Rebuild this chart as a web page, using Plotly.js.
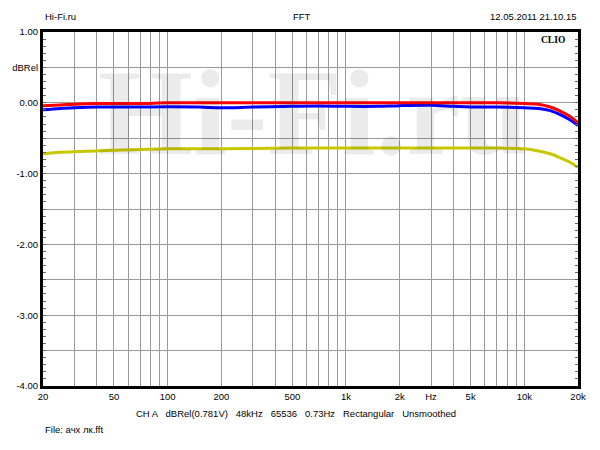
<!DOCTYPE html>
<html><head><meta charset="utf-8">
<script src="https://cdn.plot.ly/plotly-3.0.1.min.js"></script>
<style>body{margin:0;background:#fff}#c{width:600px;height:450px}</style>
</head><body><div id="c"></div>
<script>
const freq = [20,25,30,40,50,70,100,150,200,300,500,700,1000,1500,2000,3000,4000,5000,7000,10000,12000,14000,16000,18000,20000];
const red = [-0.04,-0.03,-0.02,-0.01,-0.01,-0.01,0,0,0,0,0,0,0,0,0,0,0,0,0,-0.01,-0.02,-0.06,-0.12,-0.19,-0.28];
const blue = [-0.10,-0.08,-0.07,-0.06,-0.06,-0.06,-0.055,-0.06,-0.07,-0.06,-0.05,-0.045,-0.05,-0.05,-0.04,-0.035,-0.05,-0.06,-0.06,-0.07,-0.08,-0.11,-0.17,-0.24,-0.32];
const yellow = [-0.72,-0.70,-0.69,-0.68,-0.67,-0.66,-0.65,-0.65,-0.65,-0.645,-0.64,-0.64,-0.64,-0.64,-0.64,-0.64,-0.64,-0.64,-0.64,-0.65,-0.68,-0.72,-0.78,-0.84,-0.91];

const xGrid = [20,30,40,50,60,70,80,90,100,200,300,400,500,600,700,800,900,1000,2000,3000,4000,5000,6000,7000,8000,9000,10000,20000];
const xLabels = {20:'20',50:'50',100:'100',200:'200',500:'500',1000:'1k',2000:'2k',3000:'Hz',5000:'5k',10000:'10k',20000:'20k'};
const yTicks = [-4,-3.5,-3,-2.5,-2,-1.5,-1,-0.5,0,0.5,1];
const yLabels = ['-4.00','','-3.00','','-2.00','','-1.00','','0.00','dBRel','1.00'];

const fam = 'Liberation Sans, Arial, sans-serif';
const font = {family:fam, size:9.5, color:'#000'};
const traces = [
  {x:freq, y:yellow, mode:'lines', line:{color:'#c8c800', width:3, shape:'spline'}, hoverinfo:'skip'},
  {x:freq, y:blue, mode:'lines', line:{color:'#0000ff', width:3, shape:'spline'}, hoverinfo:'skip'},
  {x:freq, y:red, mode:'lines', line:{color:'#ff0000', width:3, shape:'spline'}, hoverinfo:'skip'}
];
const layout = {
  width:600, height:450, showlegend:false,
  paper_bgcolor:'#fff', plot_bgcolor:'#fff',
  margin:{l:43, r:22, t:32, b:64},
  font:font,
  xaxis:{type:'log', range:[Math.log10(20), Math.log10(20000)], tickmode:'array',
    tickvals:xGrid, ticktext:xGrid.map(v=>xLabels[v]||''), ticks:'', showgrid:true,
    gridcolor:'#9a9a9a', gridwidth:1, showline:true, linecolor:'#000', linewidth:3, mirror:true,
    zeroline:false, tickfont:font},
  yaxis:{range:[-4,1], tickmode:'array', tickvals:yTicks, ticktext:yLabels, ticks:'inside', ticklen:3,
    tickcolor:'#666', tickwidth:1,
    showgrid:true, gridcolor:'#9a9a9a', gridwidth:1, showline:true, linecolor:'#000', linewidth:3,
    mirror:'allticks', zeroline:false, tickfont:font,
    minor:{tickmode:'linear', tick0:0, dtick:0.1, ticks:'inside', ticklen:3, tickcolor:'#666', tickwidth:1, showgrid:false}},
  annotations:[
    {text:'<b>Hi-Fi.ru</b>', xref:'paper', yref:'paper', x:(313-43)/535, y:1-(112-32)/354, xanchor:'center', yanchor:'middle', showarrow:false,
      font:{family:'Liberation Serif, Times New Roman, serif', size:122, color:'rgba(0,0,0,0.08)'}},
    {text:'Hi-Fi.ru', xref:'paper', yref:'paper', x:0, y:1, yshift:16, xanchor:'left', yanchor:'middle', showarrow:false, font:font},
    {text:'FFT', xref:'paper', yref:'paper', x:(302-43)/535, y:1, yshift:16, xanchor:'center', yanchor:'middle', showarrow:false, font:font},
    {text:'12.05.2011 21.10.15', xref:'paper', yref:'paper', x:1, y:1, yshift:16, xanchor:'right', yanchor:'middle', showarrow:false, font:font},
    {text:'<b>CLIO</b>', xref:'paper', yref:'paper', x:(567-43)/535, y:1-(40-32)/354, xanchor:'right', yanchor:'middle', showarrow:false, font:{family:'Liberation Serif, Times New Roman, serif', size:9.5, color:'#000'}},
    {text:'CH A   dBRel(0.781V)   48kHz   65536   0.73Hz   Rectangular   Unsmoothed', xref:'paper', yref:'paper', x:(296-43)/535, y:0, yshift:-27, xanchor:'center', yanchor:'middle', showarrow:false, font:font},
    {text:'File: ачх лк.fft', xref:'paper', yref:'paper', x:0, y:0, yshift:-43, xanchor:'left', yanchor:'middle', showarrow:false, font:font}
  ]
};
Plotly.newPlot('c', traces, layout, {displayModeBar:false, staticPlot:true});
</script></body></html>
